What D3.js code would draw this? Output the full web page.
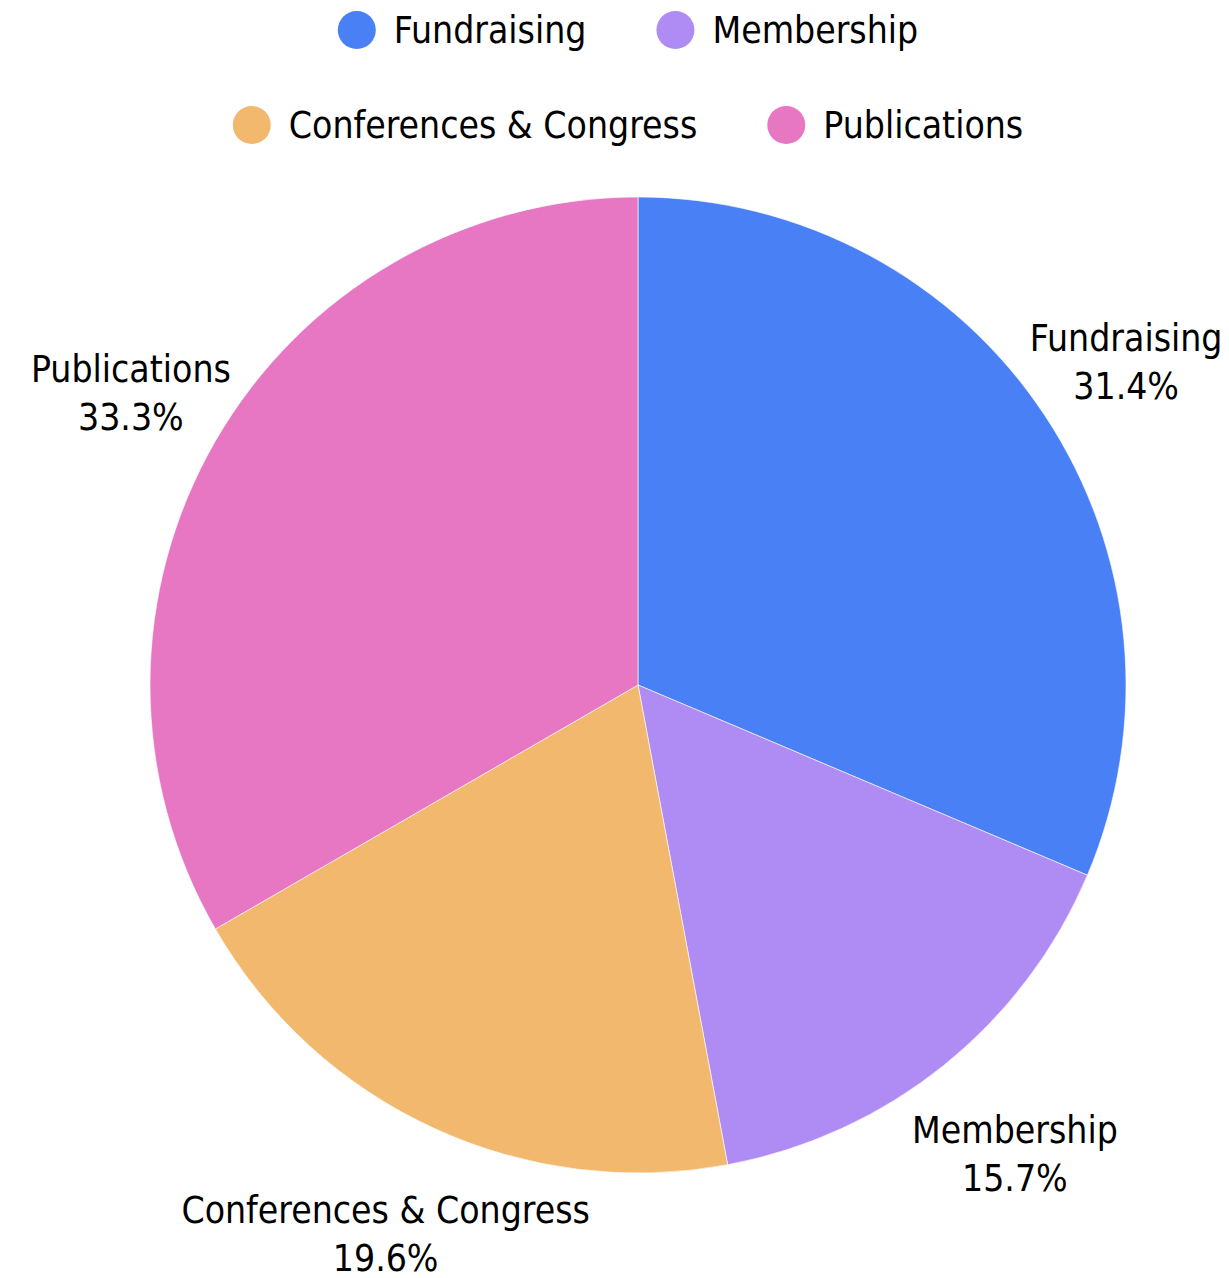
<!DOCTYPE html>
<html>
<head>
<meta charset="utf-8">
<script src="https://cdn.jsdelivr.net/npm/d3@7"></script>
<style>
  html, body { margin: 0; padding: 0; background: #fff; }
  svg { display: block; }
  text { font-family: "DejaVu Sans Condensed", "DejaVu Sans", sans-serif; fill: #000; }
</style>
</head>
<body>
<svg id="chart" width="1229" height="1278"></svg>
<script>
const categories = ["Fundraising", "Membership", "Conferences & Congress", "Publications"];
const values = [16, 8, 10, 17];
const colors = ["#4a80f6", "#ae8cf4", "#f2b86e", "#e777c2"];
const legendRows = [["Fundraising", "Membership"], ["Conferences & Congress", "Publications"]];

const W = 1229, H = 1278;
const cx = 638, cy = 685, R = 488;
const fontSize = 37;

const svg = d3.select("#chart");
const color = d3.scaleOrdinal().domain(categories).range(colors);
const data = categories.map((c, i) => ({ name: c, value: values[i] }));
const total = d3.sum(values);

const pie = d3.pie().value(d => d.value).sort(null);
const arc = d3.arc().innerRadius(0).outerRadius(R);
const arcs = pie(data);

const g = svg.append("g").attr("transform", `translate(${cx},${cy})`);
g.selectAll("path.slice").data(arcs).enter().append("path")
  .attr("class", "slice")
  .attr("d", arc)
  .attr("fill", d => color(d.data.name))
  .attr("stroke", "rgba(255,255,255,0.6)")
  .attr("stroke-width", 1);

// outside labels
const lineH = 48;
arcs.forEach(d => {
  const mid = (d.startAngle + d.endAngle) / 2;
  const dx = Math.sin(mid), dy = -Math.cos(mid);
  const r = R * 1.2 + 20 * Math.max(0, dy);
  const x = r * dx, y = r * dy;
  const pct = (d.data.value / total * 100).toFixed(1) + "%";
  const t = g.append("text")
    .attr("text-anchor", "middle")
    .attr("font-size", fontSize);
  t.append("tspan").attr("x", x).attr("y", y - 10.5).text(d.data.name);
  t.append("tspan").attr("x", x).attr("y", y - 10.5 + lineH).text(pct);
});

// legend
const legendCenter = 628;
const rowYs = [30, 125];
const dotR = 19, dotGap = 18, itemGap = 70;
legendRows.forEach((row, ri) => {
  const rowG = svg.append("g");
  let xpos = 0;
  row.forEach((name, k) => {
    const item = rowG.append("g").attr("transform", `translate(${xpos},0)`);
    item.append("circle").attr("cx", dotR).attr("cy", 0).attr("r", dotR).attr("fill", color(name));
    const txt = item.append("text").attr("x", dotR * 2 + dotGap).attr("y", 0)
      .attr("dy", "0.36em").attr("font-size", fontSize).text(name);
    const w = txt.node().getComputedTextLength();
    xpos += dotR * 2 + dotGap + w + itemGap;
  });
  const totalW = xpos - itemGap;
  rowG.attr("transform", `translate(${legendCenter - totalW / 2},${rowYs[ri]})`);
});
</script>
</body>
</html>
